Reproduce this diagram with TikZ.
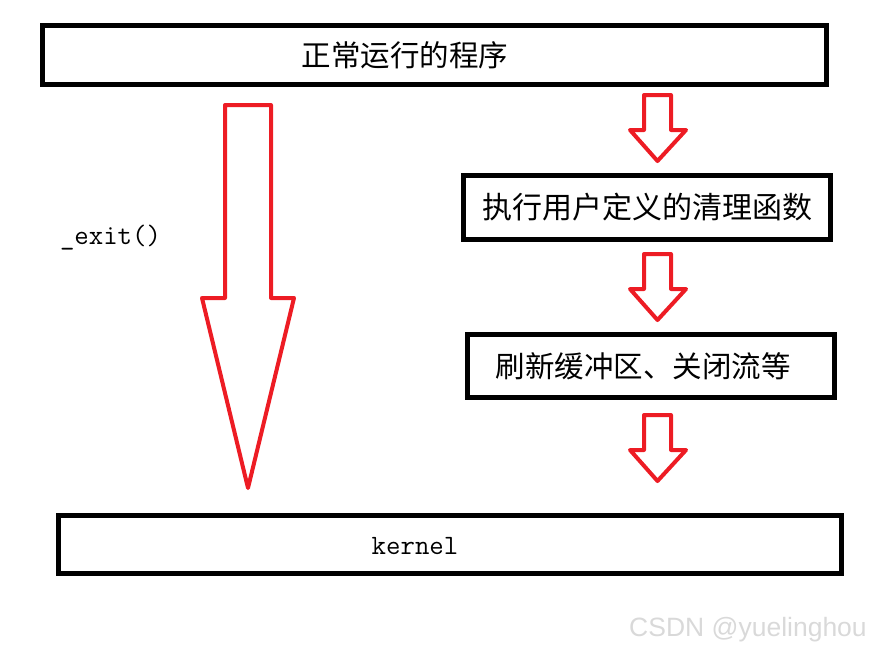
\documentclass[tikz,border=0pt]{standalone}
\usepackage{fontspec}
\newfontfamily\cjk{Noto Sans CJK SC}
\newfontfamily\wmfont{Liberation Sans}
\definecolor{arrowred}{RGB}{237,28,36}

\begin{document}
\begin{tikzpicture}[x=1pt,y=-1pt,
    box/.style={draw, line width=4.5pt, inner sep=0pt},
    redarrow/.style={draw=arrowred, line width=4pt, line join=round},
    cjktext/.style={font=\cjk\fontsize{29.5}{34}\selectfont},
    codetext/.style={font=\ttfamily\fontsize{28}{32}\selectfont}]
        \useasboundingbox (0,0) rectangle (882,654);

        % The boxes
        \node[box, minimum width=784pt, minimum height=59pt] (prog) at (434.5,55) {};
        \node[box, minimum width=367pt, minimum height=64pt] (cleanup) at (647,207.5) {};
        \node[box, minimum width=367pt, minimum height=63pt] (flush) at (651,366) {};
        \node[box, minimum width=783pt, minimum height=58pt] (kernel) at (450,544.5) {};

        % Texts of the boxes
        \node[cjktext] (progtext) at (405,55) {正常运行的程序};
        \node[cjktext, font=\cjk\fontsize{30}{36}\selectfont] (cleanuptext) at (647,207) {执行用户定义的清理函数};
        \node[cjktext] (flushtext) at (643,366) {刷新缓冲区、关闭流等};
        \node[codetext] (kerneltext) at (415,546) {kernel};

        % Direct path with _exit()
        \draw[redarrow] (225,105) -- (271,105) -- (271,298) -- (294,298)
            -- (248,488) -- (202,298) -- (225,298) -- cycle;
        \node[codetext] (exittext) at (110.5,238) {\_exit()};

        % Small arrows of the exit() path
        \foreach \t in {95,254,415}
            \draw[redarrow] (644,\t) -- (671,\t) -- (671,\t+35) -- (686,\t+35)
                -- (657.5,\t+66) -- (630,\t+35) -- (644,\t+35) -- cycle;

        % Watermark
        \node[font=\wmfont\fontsize{26.5}{30}\selectfont, black!15] (mark) at (748,630) {CSDN @yuelinghou};
\end{tikzpicture}
\end{document}
